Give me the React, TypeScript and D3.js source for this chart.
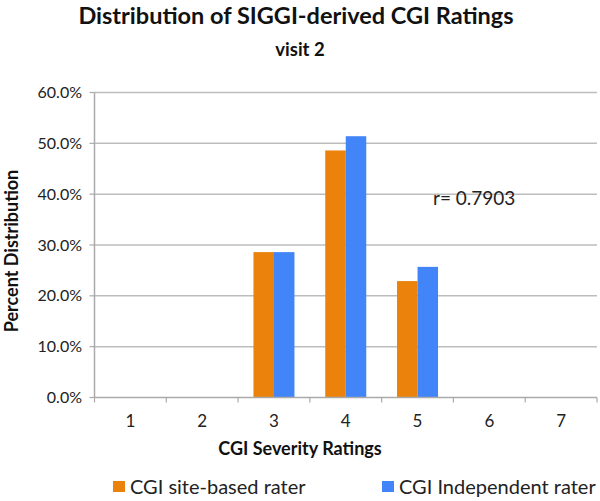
import React from "react";
import * as d3 from "d3";

const categories = ["1", "2", "3", "4", "5", "6", "7"];
const siteBased = [0, 0, 28.6, 48.6, 22.9, 0, 0];
const independent = [0, 0, 28.6, 51.4, 25.7, 0, 0];
const seriesNames = ["CGI site-based rater", "CGI Independent rater"];
const seriesColors = ["#EA820B", "#4285F8"];
const yTicks = [0, 10, 20, 30, 40, 50, 60];

const W = 600;
const H = 501;
const left = 94.5;
const right = 597;
const top = 92.5;
const bottom = 397.5;
const FONT = "Lato, 'Open Sans', sans-serif";

export default function App() {
  const x = d3.scaleBand<string>().domain(categories).range([left, right]);
  const y = d3.scaleLinear().domain([0, 60]).range([bottom, top]);
  const inner = d3.scaleBand<string>().domain(seriesNames).range([-20.5, 20.5]);
  const series = [siteBased, independent];
  const fmt = (v: number) => v.toFixed(1) + "%";

  return (
    <svg width={W} height={H} style={{ position: "absolute", left: 0, top: 0, background: "#fff" }} fontFamily={FONT}>
      <rect x={0} y={0} width={W} height={H} fill="#fff" />
      <text x={296} y={24} textAnchor="middle" fontSize={23.5} fontWeight="bold" fill="#111">
        Distribution of SIGGI-derived CGI Ratings
      </text>
      <text x={300} y={56} textAnchor="middle" fontSize={18.5} fontWeight="bold" fill="#111">
        visit 2
      </text>
      {yTicks.map((t) => (
        <g key={t}>
          {t > 0 && (
            <line x1={left} x2={right} y1={y(t)} y2={y(t)} stroke="#bdbdbd" strokeWidth={1.5} />
          )}
          <line x1={left - 5} x2={left} y1={y(t)} y2={y(t)} stroke="#aaa" strokeWidth={1.2} />
          <text x={82} y={y(t)} dy="0.35em" textAnchor="end" fontSize={16} fill="#222">
            {fmt(t)}
          </text>
        </g>
      ))}
      {series.map((vals, si) =>
        categories.map((c, i) =>
          vals[i] > 0 ? (
            <rect
              key={si + "-" + c}
              x={(x(c) as number) + x.bandwidth() / 2 + (inner(seriesNames[si]) as number)}
              y={y(vals[i])}
              width={inner.bandwidth()}
              height={y(0) - y(vals[i])}
              fill={seriesColors[si]}
            />
          ) : null
        )
      )}
      <line x1={left} x2={left} y1={top} y2={bottom} stroke="#aaa" strokeWidth={1.5} />
      <line x1={left} x2={right} y1={bottom} y2={bottom} stroke="#aaa" strokeWidth={1.5} />
      {categories.concat(["end"]).map((c, i) => {
        const px = left + i * x.step();
        return <line key={"t" + i} x1={px} x2={px} y1={bottom} y2={bottom + 5} stroke="#aaa" strokeWidth={1.2} />;
      })}
      {categories.map((c) => (
        <text key={"l" + c} x={(x(c) as number) + x.bandwidth() / 2} y={421} dy="0.35em" textAnchor="middle" fontSize={17} fill="#222">
          {c}
        </text>
      ))}
      <text x={300} y={455} textAnchor="middle" fontSize={18} fontWeight="bold" fill="#111">
        CGI Severity Ratings
      </text>
      <text transform={`translate(12,251) rotate(-90)`} dy="0.35em" textAnchor="middle" fontSize={18} fontWeight="bold" fill="#111">
        Percent Distribution
      </text>
      <text x={433} y={198.5} dy="0.35em" fontSize={19} fill="#222">
        r= 0.7903
      </text>
      {[113, 382].map((lx, i) => (
        <g key={"lg" + i}>
          <rect x={lx} y={481} width={12} height={11} fill={seriesColors[i]} />
          <text x={lx + 17} y={494} fontSize={20} fill="#222">
            {seriesNames[i]}
          </text>
        </g>
      ))}
    </svg>
  );
}
